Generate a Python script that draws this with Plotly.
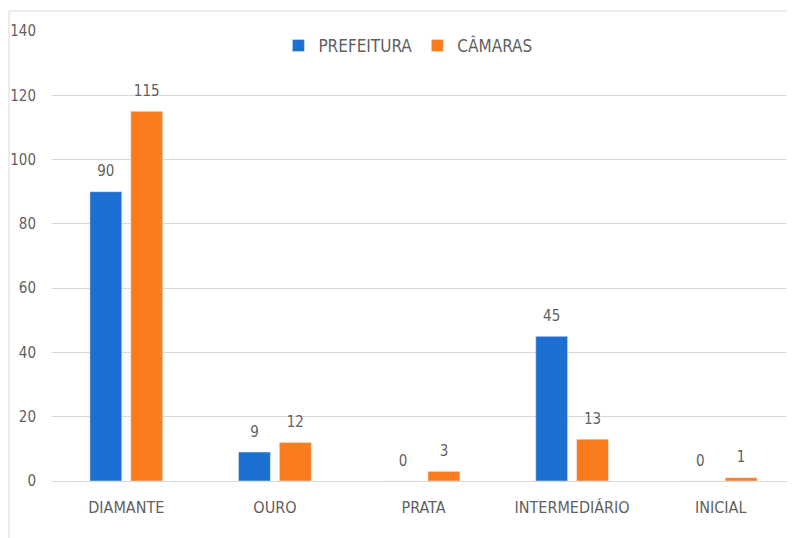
import plotly.graph_objects as go

categories = ["DIAMANTE", "OURO", "PRATA", "INTERMEDIÁRIO", "INICIAL"]
prefeitura = [90, 9, 0, 45, 0]
camaras = [115, 12, 3, 13, 1]
y_ticks = [0, 20, 40, 60, 80, 100, 120, 140]

FONT = "DejaVu Sans Condensed, Liberation Sans, sans-serif"
GRAY = "#5f5f5f"
BLUE = "#1c6fd1"
ORANGE = "#fa7c1f"

fig = go.Figure()
for name, vals, col, grp in [("PREFEITURA", prefeitura, BLUE, "a"),
                             ("CÂMARAS", camaras, ORANGE, "b")]:
    fig.add_trace(go.Bar(name=name, x=categories, y=vals, marker_color=col,
                         offsetgroup=grp, hoverinfo="x+y"))
for name, vals, grp in [("PREFEITURA", prefeitura, "a"), ("CÂMARAS", camaras, "b")]:
    fig.add_trace(go.Scatter(
        x=categories, y=vals, mode="markers+text", text=[str(v) for v in vals],
        textposition="top center", offsetgroup=grp, showlegend=False,
        marker=dict(size=17, opacity=0), hoverinfo="skip", cliponaxis=False,
        textfont=dict(family=FONT, size=15, color=GRAY),
    ))

# page has an 8px body margin; figure placed at (8, 8)
W, H = 787, 530
L, R, T, B = 44, 0, 23, 57
pw, ph = W - L - R, H - T - B

fig.update_layout(
    width=W, height=H,
    margin=dict(l=L, r=R, t=T, b=B),
    paper_bgcolor="white", plot_bgcolor="white",
    barmode="group", bargap=0.45, bargroupgap=0.22,
    scattermode="group", scattergap=0.45,
    font=dict(family=FONT, size=15, color=GRAY),
    legend=dict(orientation="h", x=0.479, xanchor="center", y=(ph - 15) / ph,
                yanchor="middle", font=dict(family=FONT, size=17, color=GRAY),
                bgcolor="rgba(0,0,0,0)", itemwidth=30, traceorder="normal"),
    xaxis=dict(showgrid=False, showline=False, ticks="", ticklabelstandoff=15,
               tickfont=dict(family=FONT, size=16, color=GRAY)),
    yaxis=dict(range=[0, 140], tickvals=y_ticks, showgrid=True, gridcolor="#d9d9d9",
               gridwidth=1, zeroline=True, zerolinecolor="#d9d9d9", zerolinewidth=1,
               showline=False, ticks="", ticklabelstandoff=15,
               tickfont=dict(family=FONT, size=15, color=GRAY)),
    shapes=[dict(type="rect", xref="paper", yref="paper",
                 x0=(1 - L) / pw, x1=(W + 5 - L) / pw,
                 y0=-(B + 5) / ph, y1=(ph + T - 3) / ph,
                 line=dict(color="#d9d9d9", width=1), fillcolor="rgba(0,0,0,0)",
                 layer="below")],
)

fig.write_html("out.html")
